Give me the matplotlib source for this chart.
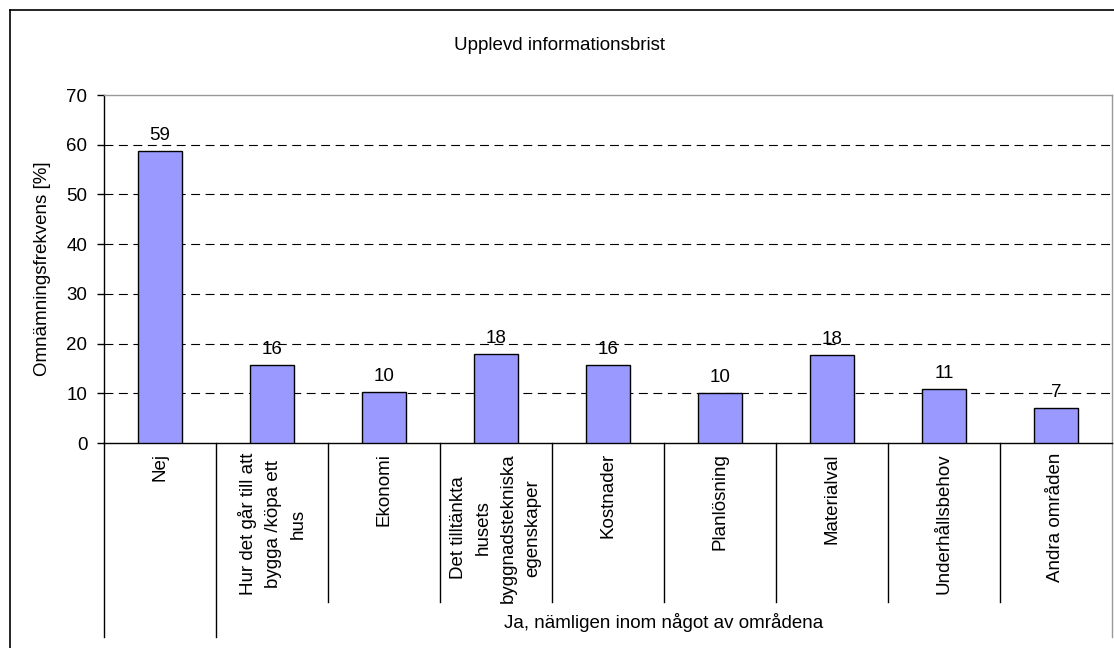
import numpy as np
import matplotlib
matplotlib.use("Agg")
import matplotlib.pyplot as plt
from matplotlib.transforms import blended_transform_factory

plt.rcParams['font.family'] = ['Liberation Sans', 'DejaVu Sans']

# data
categories = ["Nej",
              "Hur det går till att\nbygga /köpa ett\nhus",
              "Ekonomi",
              "Det tilltänkta\nhusets\nbyggnadstekniska\negenskaper",
              "Kostnader",
              "Planlösning",
              "Materialval",
              "Underhållsbehov",
              "Andra områden"]
values = [58.8, 15.7, 10.3, 17.9, 15.7, 10.1, 17.7, 10.9, 7.0]
group_label = "Ja, nämligen inom något av områdena"
title = "Upplevd informationsbrist"
ylabel = "Omnämningsfrekvens [%]"

FS = 13.5
W, H = 1114, 648
fig = plt.figure(figsize=(W / 100, H / 100), dpi=100)
fig.patch.set_facecolor("white")

# axes box in pixels
L, R, T, B = 104, 1112, 95, 443
ax = fig.add_axes([L / W, 1 - B / H, (R - L) / W, (B - T) / H])

x = np.arange(len(categories))
ax.bar(x, values, width=0.4, color="#9999FF", edgecolor="black", linewidth=1, zorder=3)

for xi, v in zip(x, values):
    ax.text(xi, v + 1.4, f"{v:.0f}", ha="center", va="bottom", fontsize=FS, zorder=4)

ax.set_xlim(-0.5, len(categories) - 0.5)
ax.set_ylim(0, 70)
ax.set_yticks(range(0, 71, 10))
ax.set_xticks([])
ax.tick_params(axis="y", length=5, width=1, labelsize=FS, pad=7, direction="out")

for yv in range(10, 70, 10):
    ax.axhline(yv, color="black", linestyle=(0, (8, 5)), linewidth=0.8, zorder=1)

ax.spines["left"].set_color("black")
ax.spines["bottom"].set_color("black")
ax.spines["top"].set_color("#999999")
ax.spines["right"].set_color("#999999")
for s in ax.spines.values():
    s.set_linewidth(1)

ax.set_ylabel(ylabel, fontsize=FS, labelpad=11)

# category labels and separators below the axis
tr = blended_transform_factory(ax.transData, ax.transAxes)
px = 1.0 / (B - T)
for xi, lab in zip(x, categories):
    ax.text(xi, -10 * px, lab, transform=tr, rotation=90, ha="center", va="top",
            multialignment="center", fontsize=FS, linespacing=1.6)

long_y = -(637 - B) * px
short_y = -(602 - B) * px
for b in np.arange(-0.5, len(categories), 1.0):
    y_end = long_y if b in (-0.5, 0.5, len(categories) - 0.5) else short_y
    col = "#999999" if b == len(categories) - 0.5 else "black"
    ax.plot([b, b], [0, y_end], transform=tr, color=col, linewidth=1, clip_on=False)

ax.text((0.5 + len(categories) - 0.5) / 2, -(622 - B) * px, group_label, transform=tr,
        ha="center", va="center", fontsize=FS)

fig.text(560 / W, 1 - 46 / H, title, ha="center", va="center", fontsize=FS)

# outer chart frame
fig.add_artist(plt.Line2D([10 / W, 10 / W], [0, 1 - 10 / H], transform=fig.transFigure,
                          color="black", linewidth=1.2))
fig.add_artist(plt.Line2D([10 / W, 1], [1 - 10 / H, 1 - 10 / H], transform=fig.transFigure,
                          color="black", linewidth=1.2))

fig.savefig("out.png", dpi=100)
